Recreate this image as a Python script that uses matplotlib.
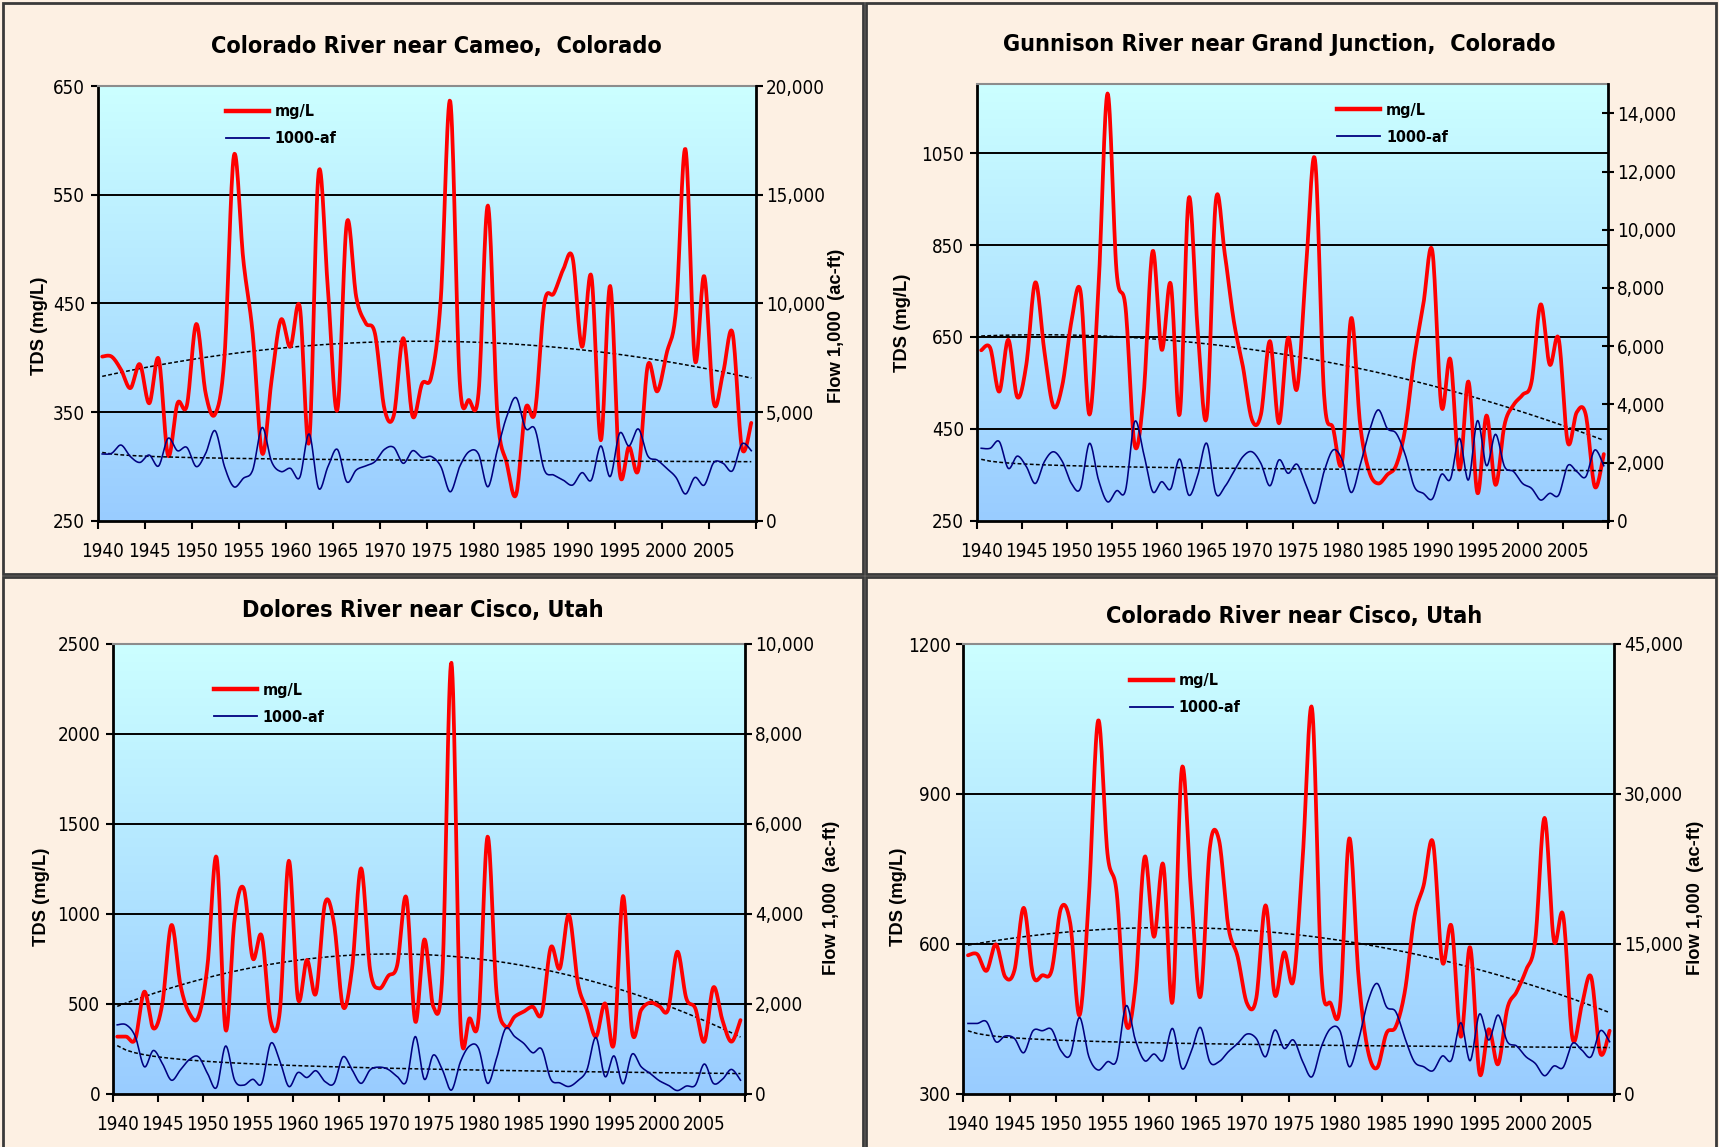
import numpy as np
import matplotlib
matplotlib.use("Agg")
import matplotlib.pyplot as plt
from matplotlib import font_manager as fm
from matplotlib.patches import Rectangle
from matplotlib.lines import Line2D
from matplotlib.ticker import FuncFormatter

# annual TDS (mg/L) and flow (1,000 acre-ft), water years 1940-2009
years = np.arange(1940, 2010)

cameo_tds = [401, 401, 389, 372, 394, 358, 399, 310, 358, 356,
             431, 367, 348, 401, 586, 490, 422, 312, 379, 435,
             410, 447, 323, 570, 462, 352, 524, 456, 432, 422,
             353, 347, 418, 346, 376, 383, 455, 636, 379, 361,
             367, 540, 349, 303, 274, 353, 350, 450, 459, 481,
             492, 410, 475, 324, 466, 295, 318, 297, 393, 369,
             404, 444, 592, 398, 475, 359, 386, 423, 317, 340]
cameo_flow = [3070, 3100, 3480, 2950, 2680, 3020, 2520, 3790, 3220, 3370,
              2490, 3100, 4140, 2490, 1560, 1950, 2330, 4290, 2720, 2260,
              2410, 1990, 3990, 1490, 2490, 3280, 1790, 2330, 2520, 2720,
              3280, 3370, 2640, 3220, 2910, 2950, 2490, 1330, 2490, 3180,
              3070, 1560, 3250, 4790, 5660, 4250, 4220, 2330, 2100, 1870,
              1640, 2210, 1870, 3440, 2030, 4020, 3440, 4220, 2980, 2790,
              2410, 1990, 1230, 1990, 1640, 2670, 2640, 2300, 3530, 3220]

gunnison_tds = [621, 626, 531, 644, 519, 590, 769, 619, 499, 546,
                684, 750, 481, 757, 1180, 793, 713, 415, 524, 837,
                622, 766, 482, 952, 662, 477, 946, 830, 684, 586,
                470, 481, 641, 462, 648, 537, 800, 1035, 524, 451,
                379, 691, 459, 357, 331, 350, 371, 451, 604, 721,
                837, 499, 601, 361, 553, 310, 479, 328, 459, 502,
                524, 553, 721, 590, 646, 421, 486, 481, 324, 395]
gunnison_flow = [2490, 2490, 2720, 1800, 2220, 1860, 1280, 2030, 2370, 2030,
                 1280, 1110, 2660, 1400, 650, 1030, 1050, 3400, 2320, 1000,
                 1340, 1090, 2120, 880, 1570, 2660, 940, 1170, 1690, 2200,
                 2370, 1970, 1200, 2090, 1630, 1940, 1230, 600, 1690, 2430,
                 2090, 970, 1910, 3060, 3810, 3170, 3000, 2260, 1170, 940,
                 750, 1590, 1430, 2830, 1400, 3440, 1890, 2970, 1860, 1690,
                 1280, 1110, 710, 940, 880, 1890, 1690, 1510, 2430, 1890]

dolores_tds = [317, 317, 304, 567, 363, 502, 937, 604, 446, 428,
               715, 1313, 354, 974, 1141, 752, 876, 400, 456, 1294,
               530, 743, 557, 1057, 946, 483, 696, 1252, 687, 585,
               654, 715, 1091, 400, 857, 483, 669, 2394, 391, 419,
               419, 1428, 557, 372, 428, 456, 483, 446, 813, 696,
               993, 613, 465, 317, 502, 280, 1098, 344, 465, 506,
               487, 469, 789, 530, 474, 289, 591, 409, 289, 409]
dolores_flow = [1530, 1530, 1270, 600, 960, 670, 300, 530, 760, 820,
                450, 140, 1060, 300, 190, 320, 230, 1120, 730, 160,
                470, 360, 510, 270, 230, 820, 530, 230, 530, 590,
                540, 380, 270, 1270, 320, 860, 530, 80, 710, 1060,
                1010, 230, 790, 1450, 1270, 1120, 910, 990, 320, 240,
                160, 290, 530, 1250, 380, 840, 220, 880, 600, 450,
                290, 190, 70, 170, 190, 660, 230, 320, 540, 300]

cisco_tds = [577, 579, 546, 599, 534, 547, 672, 537, 537, 547,
             671, 641, 457, 694, 1047, 781, 701, 441, 514, 774,
             614, 759, 484, 951, 701, 494, 791, 807, 634, 574,
             481, 491, 677, 497, 583, 527, 774, 1071, 541, 481,
             474, 811, 534, 387, 352, 421, 434, 507, 654, 717,
             803, 564, 635, 414, 593, 341, 429, 359, 471, 504,
             547, 607, 852, 607, 657, 411, 477, 534, 381, 426]
cisco_flow = [7030, 7030, 7200, 5200, 5770, 5530, 4100, 6300, 6300, 6430,
              4300, 3870, 7630, 3700, 2370, 3200, 3370, 8800, 5370, 3300,
              3970, 3370, 6530, 2530, 4200, 6630, 3200, 3200, 4200, 5030,
              5970, 5530, 3700, 6370, 4530, 5370, 3200, 1700, 4700, 6530,
              6300, 2700, 5370, 9200, 11030, 8700, 8200, 5530, 3200, 2700,
              2300, 3770, 3370, 7100, 3300, 7970, 5370, 7870, 5200, 4770,
              3700, 3030, 1800, 2770, 2630, 5030, 4370, 3700, 6300, 5200]

PEACH = "#fdf0e3"
W, H = 1719, 1147


def pick_narrow():
    # prefer a condensed face for numbers and titles, fall back to Liberation Sans
    fonts = fm.fontManager.ttflist
    if any(f.name == "Liberation Sans Narrow" for f in fonts):
        return "Liberation Sans Narrow", "normal", 1.0
    for name in ("DejaVu Sans", "Noto Sans", "Open Sans", "Roboto"):
        for f in fonts:
            if f.name == name and "condensed" in str(f.stretch):
                return name, "condensed", 1.0
    return "Liberation Sans", "normal", 0.88


NARROW, STRETCH, SCALE = pick_narrow()
WIDE = ["Liberation Sans", "DejaVu Sans"]


def narrow(txt):
    txt.set_family([NARROW, "DejaVu Sans"])
    txt.set_stretch(STRETCH)


def smooth(x, y, n=16):
    # Bezier smoothing through every point (like a spreadsheet "smoothed line")
    P = np.column_stack([x, y]).astype(float)
    Pp = np.vstack([P[0], P, P[-1]])
    p0, p1 = Pp[1:-2], Pp[2:-1]
    prev, nxt = Pp[:-3], Pp[3:]
    c1 = p0 + (p1 - prev) / 6.0
    c2 = p1 - (nxt - p0) / 6.0
    t = np.linspace(0, 1, n, endpoint=False)[None, :, None]
    a, b, c, d = p0[:, None], c1[:, None], c2[:, None], p1[:, None]
    seg = ((1 - t) ** 3) * a + 3 * ((1 - t) ** 2) * t * b + 3 * (1 - t) * t ** 2 * c + t ** 3 * d
    pts = np.vstack([seg.reshape(-1, 2), P[-1]])
    return pts[:, 0], pts[:, 1]


def px_rect(x0, y0, x1, y1):
    return [x0 / W, 1 - y1 / H, (x1 - x0) / W, (y1 - y0) / H]


def panel(fig, rect, tds, flow, tds_lim, tds_step, flow_lim, flow_step, leg_xy, inout=False):
    fs = 13.5 * SCALE
    ax = fig.add_axes(px_rect(*rect))
    ax.set_facecolor("none")
    grad = np.linspace(0, 1, 256)[:, None]
    top = np.array([0.80, 1.0, 1.0])
    bot = np.array([0.60, 0.80, 1.0])
    img = top[None, None, :] * (1 - grad[:, :, None]) + bot[None, None, :] * grad[:, :, None]
    ax.imshow(img, extent=[0, 1, 0, 1], transform=ax.transAxes, aspect="auto", zorder=-5)

    ticks = np.arange(tds_lim[0], tds_lim[1] + 1, tds_step)
    for v in ticks[1:]:
        if v < tds_lim[1]:
            ax.axhline(v, color="black", lw=1.4, zorder=1)

    sx, sy = smooth(years, tds)
    ax.plot(sx, sy, color="#ff0000", lw=2.7, zorder=4, solid_capstyle="round")
    c = np.polyfit(years - 1940, tds, 2)
    ax.plot(years, np.polyval(c, years - 1940), color="black", lw=1.1, ls=(0, (2.5, 1.5)), zorder=3)

    ax.set_xlim(1939.5, 2009.5)
    ax.set_ylim(*tds_lim)
    ax.set_yticks(ticks)
    ax.set_xticks(np.arange(1940, 2006, 5))
    ax.set_xticks(np.arange(1939.5, 2010, 5), minor=True)
    ax.tick_params(axis="x", which="major", length=0, pad=15, labelsize=fs)
    ax.tick_params(axis="x", which="minor", length=6, width=1.5, direction="out")
    ax.tick_params(axis="y", length=5, width=1.5, direction="out", pad=4, labelsize=fs)
    for lab in ax.get_xticklabels() + ax.get_yticklabels():
        narrow(lab)
    for s in ("left", "bottom"):
        ax.spines[s].set_linewidth(2)
        ax.spines[s].set_color("black")
    ax.spines["top"].set_color("#8c8c8c")
    ax.spines["top"].set_linewidth(1.5)
    ax.spines["right"].set_visible(False)

    ax2 = ax.twinx()
    fx, fy = smooth(years, flow)
    ax2.plot(fx, fy, color="#000080", lw=1.15, zorder=4)
    k = np.arange(1, len(years) + 1)
    lc = np.polyfit(np.log(k), flow, 1)
    ax2.plot(years, np.polyval(lc, np.log(k)), color="black", lw=1.1, ls=(0, (2.5, 1.5)), zorder=3)
    ax2.set_ylim(*flow_lim)
    ax2.set_yticks(np.arange(0, flow_lim[1] + 1, flow_step))
    ax2.yaxis.set_major_formatter(FuncFormatter(lambda v, p: f"{int(v):,}"))
    ax2.tick_params(axis="y", length=8 if inout else 5, width=1.5,
                    direction="inout" if inout else "out", pad=2, labelsize=fs)
    for lab in ax2.get_yticklabels():
        narrow(lab)
    for s in ("left", "bottom", "top"):
        ax2.spines[s].set_visible(False)
    ax2.spines["right"].set_linewidth(2)
    ax2.spines["right"].set_color("black")

    handles = [Line2D([], [], color="#ff0000", lw=3.2), Line2D([], [], color="#000080", lw=1.3)]
    leg = ax2.legend(handles, ["mg/L", "1000-af"], loc="upper left", bbox_to_anchor=leg_xy,
                     frameon=False, handlelength=2.7, handletextpad=0.35, labelspacing=0.75,
                     borderaxespad=0, borderpad=0,
                     prop={"weight": "bold", "size": 11.5 * SCALE})
    for t in leg.get_texts():
        narrow(t)
    return ax, ax2


fig = plt.figure(figsize=(W / 100, H / 100), dpi=100, facecolor=PEACH)

# panel frames
for x0, y0, x1, y1 in [(3, 3, 863, 574), (866, 3, 1716, 574), (3, 577, 863, 1150), (866, 577, 1716, 1150)]:
    fig.add_artist(Rectangle((x0 / W, 1 - y1 / H), (x1 - x0) / W, (y1 - y0) / H,
                             transform=fig.transFigure, fill=False, ec="#3a3a3a", lw=2.0))

panel(fig, (97.5, 86, 756, 520.7), cameo_tds, cameo_flow, (250, 650), 100, (0, 20000), 5000, (0.195, 0.958))
panel(fig, (976.7, 84.3, 1608.3, 520.7), gunnison_tds, gunnison_flow, (250, 1200), 200, (0, 15000), 2000,
      (0.571, 0.958), inout=True)
panel(fig, (112.7, 643.7, 745, 1093.7), dolores_tds, dolores_flow, (0, 2500), 500, (0, 10000), 2000, (0.16, 0.913))
panel(fig, (963.3, 644, 1614.3, 1093.7), cisco_tds, cisco_flow, (300, 1200), 300, (0, 45000), 15000, (0.256, 0.935))

titles = [(436, 46, "Colorado River near Cameo,  Colorado"),
          (1279, 45, "Gunnison River near Grand Junction,  Colorado"),
          (423, 611, "Dolores River near Cisco, Utah"),
          (1294, 616, "Colorado River near Cisco, Utah")]
for x, y, s in titles:
    t = fig.text(x / W, 1 - y / H, s, ha="center", va="center", fontsize=16.8 * SCALE, fontweight="bold")
    narrow(t)

lab_kw = dict(ha="center", va="center", rotation=90, fontsize=13.2, fontweight="bold", family=WIDE)
fig.text(40 / W, 1 - 326 / H, "TDS (mg/L)", **lab_kw)
fig.text(836 / W, 1 - 326 / H, "Flow 1,000  (ac-ft)", **lab_kw)
fig.text(902 / W, 1 - 323 / H, "TDS (mg/L)", **lab_kw)
fig.text(41 / W, 1 - 897 / H, "TDS (mg/L)", **lab_kw)
fig.text(831 / W, 1 - 898 / H, "Flow 1,000  (ac-ft)", **lab_kw)
fig.text(898 / W, 1 - 897 / H, "TDS (mg/L)", **lab_kw)
fig.text(1695 / W, 1 - 898 / H, "Flow 1,000  (ac-ft)", **lab_kw)

fig.savefig("out.png", dpi=100, facecolor=PEACH)
